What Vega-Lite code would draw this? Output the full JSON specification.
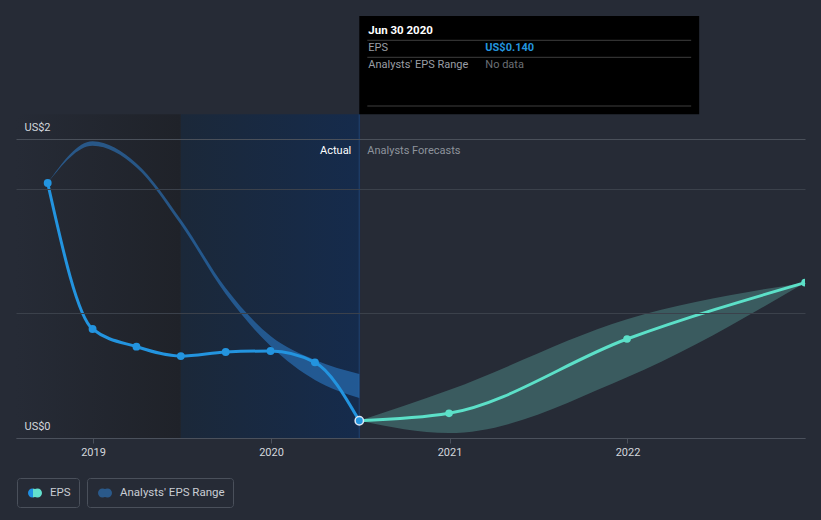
{
  "$schema": "https://vega.github.io/schema/vega-lite/v6.json",
  "width": 789,
  "height": 438,
  "autosize": {"type": "none"},
  "padding": {"left": 16, "top": 0, "right": 16, "bottom": 82},
  "background": "#262b36",
  "config": {
    "view": {"stroke": null},
    "font": "Roboto",
    "text": {"font": "Roboto"}
  },
  "datasets": {
    "eps": [
      {"date": "2018-09-30", "eps": 1.706, "series": "EPS"},
      {"date": "2018-12-31", "eps": 0.729, "series": "EPS"},
      {"date": "2019-03-31", "eps": 0.611, "series": "EPS"},
      {"date": "2019-06-30", "eps": 0.548, "series": "EPS"},
      {"date": "2019-09-30", "eps": 0.575, "series": "EPS"},
      {"date": "2019-12-31", "eps": 0.582, "series": "EPS"},
      {"date": "2020-03-31", "eps": 0.506, "series": "EPS"},
      {"date": "2020-06-30", "eps": 0.115, "series": "EPS"}
    ],
    "forecast": [
      {"date": "2020-06-30", "eps": 0.115},
      {"date": "2020-12-31", "eps": 0.165},
      {"date": "2021-12-31", "eps": 0.662},
      {"date": "2022-12-31", "eps": 1.039}
    ],
    "pastRange": [
      {"date": "2018-09-30", "low": 1.706, "high": 1.706, "series": "Analysts' EPS Range"},
      {"date": "2018-12-31", "low": 1.955, "high": 1.985, "series": "Analysts' EPS Range"},
      {"date": "2019-03-31", "low": 1.81, "high": 1.836, "series": "Analysts' EPS Range"},
      {"date": "2019-06-30", "low": 1.428, "high": 1.462, "series": "Analysts' EPS Range"},
      {"date": "2019-09-30", "low": 0.963, "high": 1.003, "series": "Analysts' EPS Range"},
      {"date": "2019-12-31", "low": 0.615, "high": 0.682, "series": "Analysts' EPS Range"},
      {"date": "2020-03-31", "low": 0.388, "high": 0.522, "series": "Analysts' EPS Range"},
      {"date": "2020-06-30", "low": 0.268, "high": 0.428, "series": "Analysts' EPS Range"}
    ],
    "fcRange": [
      {"date": "2020-06-30", "low": 0.115, "high": 0.115},
      {"date": "2020-12-31", "low": 0.033, "high": 0.321},
      {"date": "2021-12-31", "low": 0.406, "high": 0.794},
      {"date": "2022-12-31", "low": 1.039, "high": 1.039}
    ],
    "notes": [
      {"date": "2020-06-30", "left": "Actual", "right": "Analysts Forecasts", "title": "Jun 30 2020", "epsLabel": "EPS", "epsValue": "US$0.140", "rangeLabel": "Analysts' EPS Range", "rangeValue": "No data"}
    ]
  },
  "layer": [
    {
      "data": {"values": [{"start": "2018-07-27", "end": "2019-06-30"}]},
      "mark": {"type": "rect", "color": {"gradient": "linear", "x1": 0, "y1": 0, "x2": 1, "y2": 0, "stops": [{"offset": 0, "color": "#262b36"}, {"offset": 1, "color": "#1f2229"}]}},
      "encoding": {
        "x": {
          "field": "start", "type": "temporal",
          "scale": {"type": "utc", "domain": [{"year": 2018, "month": 7, "date": 27, "utc": true}, {"year": 2022, "month": 12, "date": 31, "utc": true}]},
          "axis": {
            "title": null, "zindex": 1,
            "values": [{"year": 2019, "month": 1, "date": 1, "utc": true}, {"year": 2020, "month": 1, "date": 1, "utc": true}, {"year": 2021, "month": 1, "date": 1, "utc": true}, {"year": 2022, "month": 1, "date": 1, "utc": true}],
            "format": "%Y", "formatType": "utc",
            "labelColor": "#d3d7dd", "labelFontSize": 11, "labelFont": "Roboto",
            "domainColor": "#4b515c", "tickColor": "#4b515c", "tickSize": 5,
            "labelPadding": 3, "grid": false
          }
        },
        "x2": {"field": "end"},
        "y": {
          "datum": 0, "type": "quantitative",
          "scale": {"domain": [0, 2.9298], "nice": false, "zero": false},
          "axis": {
            "title": null, "zindex": 1,
            "values": [0, 0.833, 1.667, 2],
            "labelExpr": "datum.value == 0 ? 'US$0' : (datum.value == 2 ? 'US$2' : '')",
            "labelOverlap": false,
            "domain": false, "ticks": false, "tickSize": 0,
            "labelAlign": "left", "labelBaseline": "middle",
            "labelPadding": -8, "labelOffset": -12,
            "labelColor": "#d3d7dd", "labelFontSize": 11, "labelFont": "Roboto",
            "grid": true,
            "gridColor": {"condition": {"test": "datum.value == 2", "value": "#4a505a"}, "value": "#3b414b"}
          }
        },
        "y2": {"datum": 2.1652}
      }
    },
    {
      "data": {"values": [{"start": "2019-06-30", "end": "2020-06-30"}]},
      "mark": {"type": "rect", "color": {"gradient": "linear", "x1": 0, "y1": 0, "x2": 1, "y2": 0, "stops": [{"offset": 0, "color": "#1b2839"}, {"offset": 1, "color": "#152b4c"}]}},
      "encoding": {
        "x": {"field": "start", "type": "temporal"},
        "x2": {"field": "end"},
        "y": {"datum": 0, "type": "quantitative"},
        "y2": {"datum": 2.1652}
      }
    },
    {
      "data": {"name": "notes"},
      "mark": {"type": "rule", "color": "#1d3b64", "strokeWidth": 1.5},
      "encoding": {
        "x": {"field": "date", "type": "temporal"},
        "y": {"datum": 0, "type": "quantitative"},
        "y2": {"datum": 2.1652}
      }
    },
    {
      "data": {"name": "pastRange"},
      "mark": {"type": "area", "interpolate": "monotone", "opacity": 0.55},
      "encoding": {
        "x": {"field": "date", "type": "temporal"},
        "y": {"field": "low", "type": "quantitative"},
        "y2": {"field": "high"},
        "fill": {
          "field": "series", "type": "nominal",
          "scale": {"domain": ["Analysts' EPS Range"], "range": ["#2e7fd0"]},
          "legend": {
            "orient": "none", "legendX": 71, "legendY": 478, "title": null,
            "padding": 8, "strokeColor": "#4a505b", "cornerRadius": 3,
            "labelColor": "#c9cdd4", "labelFontSize": 11.5, "labelFont": "Roboto", "labelOffset": 8,
            "symbolType": "M-1,0 A0.643,0.643 0 1,1 0.286,0 A0.643,0.643 0 1,1 -1,0 Z M-0.286,0 A0.643,0.643 0 1,1 1,0 A0.643,0.643 0 1,1 -0.286,0 Z",
            "symbolSize": 196, "symbolOffset": 3, "symbolStrokeWidth": 0,
            "encode": {"symbols": {"update": {
              "fill": {"value": {"gradient": "linear", "x1": 0, "y1": 0, "x2": 1, "y2": 0, "stops": [{"offset": 0, "color": "#2b6b9b"}, {"offset": 0.36, "color": "#2b6b9b"}, {"offset": 0.36, "color": "#4a8e8a"}, {"offset": 1, "color": "#4a8e8a"}]}},
              "stroke": {"value": "transparent"},
              "opacity": {"value": 1}
            }}}
          }
        }
      }
    },
    {
      "data": {"name": "fcRange"},
      "mark": {"type": "area", "interpolate": "monotone", "color": "#6fd6c8", "opacity": 0.28},
      "encoding": {
        "x": {"field": "date", "type": "temporal"},
        "y": {"field": "low", "type": "quantitative"},
        "y2": {"field": "high"}
      }
    },
    {
      "data": {"name": "eps"},
      "mark": {"type": "line", "interpolate": "monotone", "strokeWidth": 3},
      "encoding": {
        "x": {"field": "date", "type": "temporal"},
        "y": {"field": "eps", "type": "quantitative"},
        "color": {
          "field": "series", "type": "nominal",
          "scale": {"domain": ["EPS"], "range": ["#2394df"]},
          "legend": {
            "orient": "none", "legendX": 1, "legendY": 478, "title": null,
            "padding": 8, "strokeColor": "#4a505b", "cornerRadius": 3,
            "labelColor": "#c9cdd4", "labelFontSize": 11.5, "labelFont": "Roboto", "labelOffset": 8,
            "symbolType": "M-1,0 A0.643,0.643 0 1,1 0.286,0 A0.643,0.643 0 1,1 -1,0 Z M-0.286,0 A0.643,0.643 0 1,1 1,0 A0.643,0.643 0 1,1 -0.286,0 Z",
            "symbolSize": 196, "symbolOffset": 3, "symbolStrokeWidth": 0,
            "encode": {"symbols": {"update": {
              "fill": {"value": {"gradient": "linear", "x1": 0, "y1": 0, "x2": 1, "y2": 0, "stops": [{"offset": 0, "color": "#1f8fe3"}, {"offset": 0.36, "color": "#1f8fe3"}, {"offset": 0.36, "color": "#62e0cd"}, {"offset": 1, "color": "#62e0cd"}]}},
              "stroke": {"value": "transparent"},
              "opacity": {"value": 1}
            }}}
          }
        }
      }
    },
    {
      "data": {"name": "forecast"},
      "mark": {"type": "line", "interpolate": "monotone", "strokeWidth": 3, "color": "#5ce0c8"},
      "encoding": {
        "x": {"field": "date", "type": "temporal"},
        "y": {"field": "eps", "type": "quantitative"}
      }
    },
    {
      "data": {"name": "eps"},
      "transform": [{"filter": "utcyear(datum.date) < 2020 || utcmonth(datum.date) < 5"}],
      "mark": {"type": "point", "filled": true, "size": 62, "color": "#2394df", "opacity": 1},
      "encoding": {
        "x": {"field": "date", "type": "temporal"},
        "y": {"field": "eps", "type": "quantitative"}
      }
    },
    {
      "data": {"name": "forecast"},
      "transform": [{"filter": "utcyear(datum.date) > 2020 || utcmonth(datum.date) > 5"}],
      "mark": {"type": "point", "filled": true, "size": 58, "color": "#5ce0c8", "opacity": 1, "clip": true},
      "encoding": {
        "x": {"field": "date", "type": "temporal"},
        "y": {"field": "eps", "type": "quantitative"}
      }
    },
    {
      "data": {"name": "forecast"},
      "transform": [{"filter": "utcyear(datum.date) == 2020 && utcmonth(datum.date) == 5"}],
      "mark": {"type": "point", "filled": true, "size": 70, "fill": "#2394df", "stroke": "#dce8f5", "strokeWidth": 1.5, "opacity": 1},
      "encoding": {
        "x": {"field": "date", "type": "temporal"},
        "y": {"field": "eps", "type": "quantitative"}
      }
    },
    {
      "data": {"name": "notes"},
      "mark": {"type": "text", "align": "right", "baseline": "middle", "dx": -8, "fontSize": 11, "color": "#ffffff"},
      "encoding": {
        "x": {"field": "date", "type": "temporal"},
        "y": {"datum": 1.92, "type": "quantitative"},
        "text": {"field": "left"}
      }
    },
    {
      "data": {"name": "notes"},
      "mark": {"type": "text", "align": "left", "baseline": "middle", "dx": 8, "fontSize": 11, "color": "#8d939c"},
      "encoding": {
        "x": {"field": "date", "type": "temporal"},
        "y": {"datum": 1.92, "type": "quantitative"},
        "text": {"field": "right"}
      }
    },
    {
      "data": {"name": "notes"},
      "mark": {"type": "rect", "color": "#000000"},
      "encoding": {
        "x": {"field": "date", "type": "temporal"},
        "x2": {"datum": {"year": 2022, "month": 5, "date": 28, "utc": true}},
        "y": {"datum": 2.1652, "type": "quantitative"},
        "y2": {"datum": 2.8227}
      }
    },
    {
      "data": {"name": "notes"},
      "mark": {"type": "rule", "color": "#3e3e3e", "strokeWidth": 1, "xOffset": 8, "x2Offset": -8},
      "encoding": {
        "x": {"field": "date", "type": "temporal"},
        "x2": {"datum": {"year": 2022, "month": 5, "date": 28, "utc": true}},
        "y": {"datum": 2.6602, "type": "quantitative"}
      }
    },
    {
      "data": {"name": "notes"},
      "mark": {"type": "rule", "color": "#3e3e3e", "strokeWidth": 1, "xOffset": 8, "x2Offset": -8},
      "encoding": {
        "x": {"field": "date", "type": "temporal"},
        "x2": {"datum": {"year": 2022, "month": 5, "date": 28, "utc": true}},
        "y": {"datum": 2.5465, "type": "quantitative"}
      }
    },
    {
      "data": {"name": "notes"},
      "mark": {"type": "rule", "color": "#3e3e3e", "strokeWidth": 1, "xOffset": 8, "x2Offset": -8},
      "encoding": {
        "x": {"field": "date", "type": "temporal"},
        "x2": {"datum": {"year": 2022, "month": 5, "date": 28, "utc": true}},
        "y": {"datum": 2.2207, "type": "quantitative"}
      }
    },
    {
      "data": {"name": "notes"},
      "mark": {"type": "text", "align": "left", "baseline": "middle", "dx": 9, "fontSize": 11.5, "fontWeight": "bold", "color": "#ffffff"},
      "encoding": {
        "x": {"field": "date", "type": "temporal"},
        "y": {"datum": 2.7224, "type": "quantitative"},
        "text": {"field": "title"}
      }
    },
    {
      "data": {"name": "notes"},
      "mark": {"type": "text", "align": "left", "baseline": "middle", "dx": 9, "fontSize": 11, "color": "#9a9ea5"},
      "encoding": {
        "x": {"field": "date", "type": "temporal"},
        "y": {"datum": 2.6067, "type": "quantitative"},
        "text": {"field": "epsLabel"}
      }
    },
    {
      "data": {"name": "notes"},
      "mark": {"type": "text", "align": "left", "baseline": "middle", "dx": 126, "fontSize": 11, "fontWeight": "bold", "color": "#2394df"},
      "encoding": {
        "x": {"field": "date", "type": "temporal"},
        "y": {"datum": 2.6067, "type": "quantitative"},
        "text": {"field": "epsValue"}
      }
    },
    {
      "data": {"name": "notes"},
      "mark": {"type": "text", "align": "left", "baseline": "middle", "dx": 9, "fontSize": 11, "color": "#9a9ea5"},
      "encoding": {
        "x": {"field": "date", "type": "temporal"},
        "y": {"datum": 2.495, "type": "quantitative"},
        "text": {"field": "rangeLabel"}
      }
    },
    {
      "data": {"name": "notes"},
      "mark": {"type": "text", "align": "left", "baseline": "middle", "dx": 126, "fontSize": 11, "color": "#6b6f75"},
      "encoding": {
        "x": {"field": "date", "type": "temporal"},
        "y": {"datum": 2.495, "type": "quantitative"},
        "text": {"field": "rangeValue"}
      }
    }
  ]
}
